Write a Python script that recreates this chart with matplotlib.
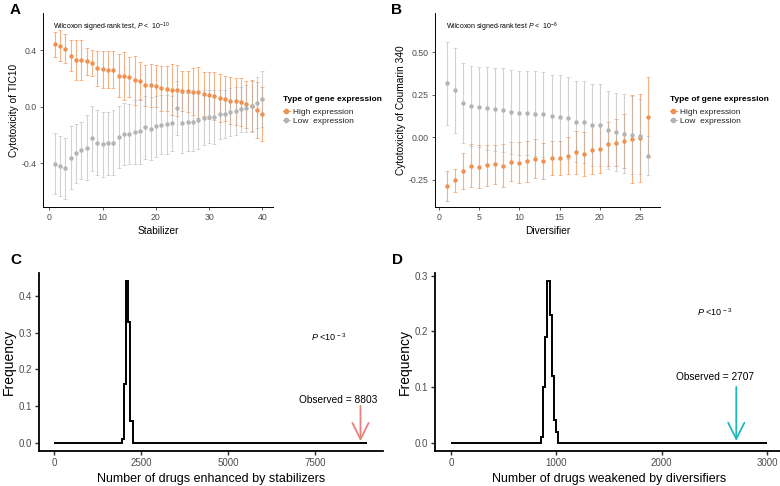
import numpy as np
import matplotlib.pyplot as plt
from matplotlib.lines import Line2D

plt.rcParams['font.family'] = ['Liberation Sans', 'DejaVu Sans']
plt.rcParams['mathtext.fontset'] = 'custom'
plt.rcParams['mathtext.rm'] = 'Liberation Sans'
plt.rcParams['mathtext.it'] = 'Liberation Sans:italic'

# Panel A: stabilizers, cytotoxicity of TIC10 (mean and sd)
stab_high = [0.44, 0.43, 0.41, 0.36, 0.33, 0.33, 0.32, 0.31, 0.27, 0.265, 0.26, 0.26, 0.22, 0.215,
             0.21, 0.185, 0.18, 0.15, 0.15, 0.145, 0.13, 0.128, 0.12, 0.115, 0.11, 0.11, 0.105, 0.10,
             0.09, 0.08, 0.075, 0.06, 0.057, 0.043, 0.038, 0.033, 0.017, 0.005, -0.024, -0.052]
stab_high_sd = [0.09, 0.11, 0.105, 0.11, 0.14, 0.14, 0.095, 0.09, 0.125, 0.13, 0.13, 0.13, 0.155, 0.17,
                0.14, 0.175, 0.135, 0.145, 0.15, 0.15, 0.16, 0.16, 0.18, 0.18, 0.14, 0.145, 0.165, 0.18,
                0.155, 0.165, 0.17, 0.17, 0.16, 0.165, 0.165, 0.17, 0.165, 0.18, 0.195, 0.19]
stab_low = [-0.405, -0.42, -0.435, -0.36, -0.33, -0.31, -0.29, -0.225, -0.255, -0.265, -0.26, -0.255,
            -0.215, -0.195, -0.195, -0.18, -0.173, -0.147, -0.155, -0.14, -0.128, -0.125, -0.118, -0.012,
            -0.116, -0.109, -0.106, -0.095, -0.08, -0.07, -0.075, -0.055, -0.052, -0.038, -0.03, -0.02,
            -0.012, 0.002, 0.026, 0.054]
stab_low_sd = [0.215, 0.21, 0.215, 0.22, 0.21, 0.2, 0.23, 0.23, 0.23, 0.23, 0.225, 0.23, 0.22, 0.22,
               0.21, 0.225, 0.23, 0.225, 0.22, 0.215, 0.21, 0.21, 0.195, 0.19, 0.21, 0.205, 0.205, 0.205,
               0.195, 0.19, 0.19, 0.175, 0.17, 0.17, 0.17, 0.16, 0.165, 0.18, 0.18, 0.2]

# Panel B: diversifiers, cytotoxicity of Coumarin 340
div_high = [-0.287, -0.254, -0.197, -0.167, -0.173, -0.165, -0.159, -0.167, -0.144, -0.15, -0.142,
            -0.126, -0.138, -0.124, -0.122, -0.108, -0.089, -0.098, -0.075, -0.069, -0.041, -0.031,
            -0.02, -0.01, -0.004, 0.12]
div_high_sd = [0.09, 0.065, 0.105, 0.125, 0.125, 0.12, 0.115, 0.125, 0.115, 0.12, 0.12, 0.115, 0.105,
               0.1, 0.1, 0.11, 0.125, 0.13, 0.14, 0.14, 0.13, 0.14, 0.16, 0.26, 0.26, 0.235]
div_low = [0.317, 0.278, 0.2, 0.183, 0.177, 0.17, 0.165, 0.16, 0.148, 0.144, 0.144, 0.138, 0.136,
           0.124, 0.12, 0.114, 0.093, 0.089, 0.073, 0.071, 0.041, 0.031, 0.022, 0.014, 0.006, -0.108]
div_low_sd = [0.242, 0.25, 0.236, 0.236, 0.236, 0.242, 0.245, 0.246, 0.248, 0.246, 0.248, 0.25, 0.25,
              0.245, 0.245, 0.24, 0.24, 0.24, 0.24, 0.24, 0.23, 0.227, 0.234, 0.23, 0.22, 0.115]

# Panels C, D: permutation distributions (step histograms)
c_edges = [0, 1940, 2000, 2060, 2125, 2190, 2250, 9000]
c_freq = [0, 0.01, 0.16, 0.44, 0.33, 0.06, 0]
c_observed = 8803
d_edges = [0, 856, 876, 896, 916, 936, 956, 976, 996, 1016, 3000]
d_freq = [0, 0.01, 0.10, 0.19, 0.29, 0.23, 0.12, 0.04, 0.02, 0]
d_observed = 2707

orange = '#EF9150'
grey = '#B4B4B4'
tick_col = '#4D4D4D'

fig = plt.figure(figsize=(7.8, 4.86), dpi=100)


def style_axes(ax, lw, size, ticklen):
    for s in ['top', 'right']:
        ax.spines[s].set_visible(False)
    for s in ['left', 'bottom']:
        ax.spines[s].set_linewidth(lw)
        ax.spines[s].set_color('black')
    ax.tick_params(length=ticklen, width=lw * 0.8, color='#333333', labelcolor=tick_col,
                   labelsize=size, pad=2)


def dot_panel(ax, high, high_sd, low, low_sd):
    x = np.arange(1, len(high) + 1)
    ax.errorbar(x, high, yerr=high_sd, fmt='none', ecolor=orange, alpha=0.7,
                elinewidth=0.8, capsize=1.5, capthick=0.6)
    ax.errorbar(x, low, yerr=low_sd, fmt='none', ecolor=grey, alpha=0.6,
                elinewidth=0.8, capsize=1.5, capthick=0.6)
    ax.plot(x, high, 'o', color=orange, ms=3.2, mec='none')
    ax.plot(x, low, 'o', color=grey, ms=3.2, mec='none')


# A
axA = fig.add_axes([43 / 780, 1 - 207 / 486, 230 / 780, 193.7 / 486])
dot_panel(axA, stab_high, stab_high_sd, stab_low, stab_low_sd)
axA.set_xlim(-1.2, 42)
axA.set_ylim(-0.71, 0.66)
axA.set_xticks([0, 10, 20, 30, 40])
axA.set_yticks([-0.4, 0.0, 0.4])
axA.set_yticklabels(['-0.4', '0.0', '0.4'])
style_axes(axA, 0.7, 6.3, 2.5)
axA.set_xlabel('Stabilizer', fontsize=7.3, labelpad=3)
axA.set_ylabel('Cytotoxicity of TIC10', fontsize=7.3, labelpad=2)
axA.text(0.045, 0.96, r'Wilcoxon signed-rank test, $P$ <  10$^{-10}$', transform=axA.transAxes,
         fontsize=5, va='top')

# B
axB = fig.add_axes([435 / 780, 1 - 207 / 486, 225 / 780, 193.7 / 486])
dot_panel(axB, div_high, div_high_sd, div_low, div_low_sd)
axB.set_xlim(-0.5, 27.5)
axB.set_ylim(-0.41, 0.73)
axB.set_xticks([0, 5, 10, 15, 20, 25])
axB.set_yticks([-0.25, 0.0, 0.25, 0.5])
axB.set_yticklabels(['-0.25', '0.00', '0.25', '0.50'])
style_axes(axB, 0.7, 6.3, 2.5)
axB.set_xlabel('Diversifier', fontsize=7.3, labelpad=3)
axB.set_ylabel('Cytotoxicity of Coumarin 340', fontsize=7.3, labelpad=2)
axB.text(0.05, 0.96, r'Wilcoxon signed-rank test $P$ <  10$^{-6}$', transform=axB.transAxes,
         fontsize=5, va='top')

# legends
handles = [Line2D([0], [0], color=orange, marker='o', ms=3, lw=0.7),
           Line2D([0], [0], color=grey, marker='o', ms=3, lw=0.7)]
labels = ['High expression', 'Low  expression']
for lx in [283 / 780, 670 / 780]:
    leg = fig.legend(handles, labels, loc='upper left', bbox_to_anchor=(lx, 1 - 96 / 486),
                     frameon=False, fontsize=6, title='Type of gene expression',
                     title_fontproperties={'weight': 'bold', 'size': 6},
                     handlelength=0.8, handletextpad=0.4, labelspacing=0.05,
                     borderpad=0, borderaxespad=0)
    leg._legend_box.align = 'left'
    leg._legend_box.sep = 4
    for t in leg.get_texts():
        t.set_color('#222222')

# C
axC = fig.add_axes([38.6 / 780, 35.3 / 486, 344.4 / 780, 177.4 / 486])
axC.stairs(c_freq, c_edges, baseline=None, color='black', lw=1.4)
axC.set_xlim(-450, 9450)
axC.set_ylim(-0.022, 0.462)
axC.set_xticks([0, 2500, 5000, 7500])
axC.set_yticks([0.0, 0.1, 0.2, 0.3, 0.4])
style_axes(axC, 1.3, 7, 3)
axC.set_xlabel('Number of drugs enhanced by stabilizers', fontsize=9, labelpad=4)
axC.set_ylabel('Frequency', fontsize=10, labelpad=2)
axC.annotate('', xy=(c_observed, 0.004), xytext=(c_observed, 0.1),
             arrowprops=dict(arrowstyle='->,head_length=0.9,head_width=0.45', color='#E8817B',
                             lw=1.3, mutation_scale=13, shrinkA=0, shrinkB=0))
axC.text(8160, 0.115, 'Observed = 8803', fontsize=7.3, ha='center', va='center')
axC.text(7885, 0.287, r'$P$ <10$^{\,-3}$', fontsize=6.5, ha='center', va='center')

# D
axD = fig.add_axes([435 / 780, 35.3 / 486, 348 / 780, 177.4 / 486])
axD.stairs(d_freq, d_edges, baseline=None, color='black', lw=1.4)
axD.set_xlim(-150, 3150)
axD.set_ylim(-0.0145, 0.3045)
axD.set_xticks([0, 1000, 2000, 3000])
axD.set_yticks([0.0, 0.1, 0.2, 0.3])
style_axes(axD, 1.3, 7, 3)
axD.set_xlabel('Number of drugs weakened by diversifiers', fontsize=9, labelpad=4)
axD.set_ylabel('Frequency', fontsize=10, labelpad=2)
axD.annotate('', xy=(d_observed, 0.003), xytext=(d_observed, 0.1),
             arrowprops=dict(arrowstyle='->,head_length=0.9,head_width=0.45', color='#1DB8B8',
                             lw=1.3, mutation_scale=13, shrinkA=0, shrinkB=0))
axD.text(2505, 0.118, 'Observed = 2707', fontsize=7.3, ha='center', va='center')
axD.text(2508, 0.235, r'$P$ <10$^{\,-3}$', fontsize=6.5, ha='center', va='center')

# panel letters
for lab, x, y in [('A', 10, 3), ('B', 391, 3), ('C', 10, 253), ('D', 392, 253)]:
    fig.text(x / 780, 1 - y / 486, lab, fontsize=11, fontweight='bold', va='top', ha='left')

fig.savefig('out.png', dpi=100)
